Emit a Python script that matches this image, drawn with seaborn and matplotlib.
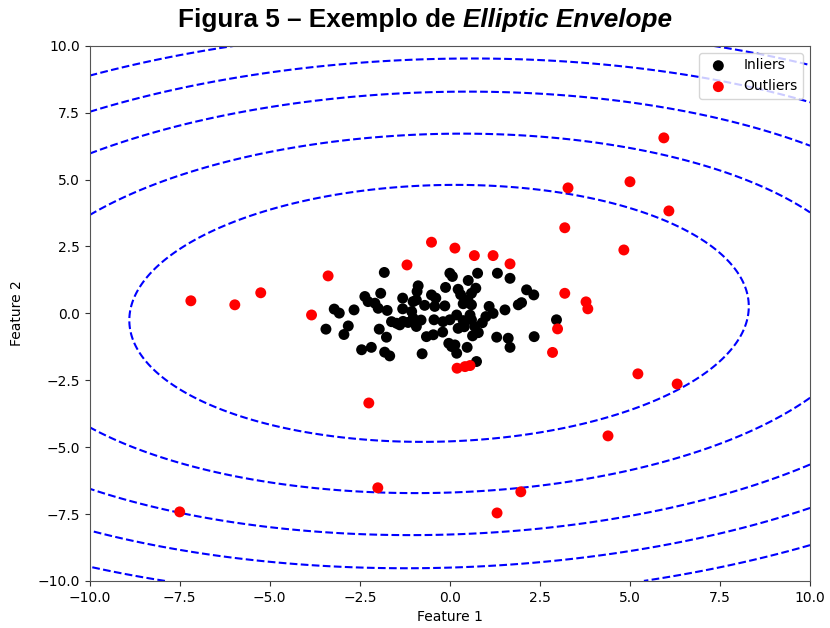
import numpy as np
import pandas as pd
import seaborn as sns
import matplotlib.pyplot as plt

# inliers (black points)
inlier_x = [-1.82, 0.00, 0.07, 0.77, 0.51, 1.32, 1.67, -0.88, -0.91, -0.12,
            0.23, 0.72, 0.60, 2.13, 2.33, -2.36, -1.92, -2.27, -2.08, -1.99,
            -3.21, -3.07, -2.66, -1.74, -1.31, -1.31, -1.02, -0.93, -0.51, -0.39,
            -0.42, -0.14, 0.37, 0.60, 1.09, 1.53, 1.90, 1.99, -1.06, -1.02,
            -1.62, -1.48, -1.39, -1.16, -0.93, -0.44, -0.19, 0.00, 0.19, 0.23,
            0.37, 0.56, 0.60, 1.00, -3.44, -2.82, -2.94, -1.96, -1.76, -0.65,
            -0.46, 0.69, 0.79, 0.63, 1.30, 1.62, 1.67, 2.34, 2.96, -0.03,
            0.05, 0.14, 0.19, 0.48, -2.45, -2.18, -1.81, -1.67, -0.77, 0.74,
            -1.30, -0.80, 0.40, 0.50, -0.70, 1.20, 0.30, -0.20, 0.90]
inlier_y = [1.53, 1.50, 1.38, 1.50, 1.23, 1.50, 1.31, 1.03, 0.82, 0.97,
            0.90, 0.94, 0.75, 0.88, 0.69, 0.63, 0.75, 0.44, 0.38, 0.19,
            0.16, 0.01, 0.13, 0.11, 0.57, 0.17, 0.44, 0.50, 0.69, 0.57,
            0.26, 0.28, 0.36, 0.32, 0.26, 0.13, 0.32, 0.40, 0.07, -0.18,
            -0.31, -0.37, -0.43, -0.34, -0.49, -0.24, -0.31, -0.24, -0.06, -0.56,
            -0.27, -0.06, -0.24, -0.12, -0.59, -0.47, -0.79, -0.59, -0.89, -0.87,
            -0.80, -0.49, -0.72, -0.84, -0.89, -0.93, -1.27, -0.87, -0.24, -1.12,
            -1.24, -1.18, -1.49, -1.27, -1.36, -1.27, -1.45, -1.59, -1.51, -1.80,
            -0.30, -0.25, -0.50, 0.50, 0.30, 0.00, 0.70, -0.70, -0.35]

# outliers (red points)
outlier_x = [-7.19, -5.97, -5.25, -3.84, -3.38, -1.19, -0.51, 0.14, 0.68, 1.20,
             1.67, 5.94, 5.00, 6.08, 3.28, 3.19, 4.83, 3.19, 3.78, 3.83,
             2.99, 2.85, 5.22, 6.31, 4.39, 0.20, 0.42, 0.56, -2.25, -2.00,
             1.97, 1.31, -7.50]
outlier_y = [0.47, 0.32, 0.77, -0.06, 1.40, 1.81, 2.66, 2.44, 2.16, 2.16,
             1.85, 6.56, 4.92, 3.83, 4.69, 3.20, 2.37, 0.75, 0.43, 0.17,
             -0.58, -1.46, -2.26, -2.64, -4.58, -2.05, -1.99, -1.95, -3.35, -6.52,
             -6.67, -7.46, -7.42]

# fitted elliptic envelope (centre, precision matrix, contour levels)
center = (-0.3, 0.0)
precision = [[0.312, -0.03], [-0.03, 1.0]]
levels = [23, 45, 68.5, 90.5, 113.5]

inliers = pd.DataFrame({"x": inlier_x, "y": inlier_y})
outliers = pd.DataFrame({"x": outlier_x, "y": outlier_y})

plt.rcParams["font.family"] = ["DejaVu Sans"]
fig = plt.figure(figsize=(8.3, 6.28), dpi=100)
ax = fig.add_axes([0.108, 0.075, 0.868, 0.852])

# mahalanobis-type distance surface
xx, yy = np.meshgrid(np.linspace(-10, 10, 500), np.linspace(-10, 10, 500))
dx = xx - center[0]
dy = yy - center[1]
P = np.array(precision)
Z = P[0, 0] * dx**2 + 2 * P[0, 1] * dx * dy + P[1, 1] * dy**2
ax.contour(xx, yy, Z, levels=levels, colors="blue", linestyles="dashed", linewidths=1.5)

sns.scatterplot(data=inliers, x="x", y="y", color="black", s=62,
                edgecolor="none", label="Inliers", ax=ax, zorder=3)
sns.scatterplot(data=outliers, x="x", y="y", color="red", s=62,
                edgecolor="none", label="Outliers", ax=ax, zorder=3)

ax.set_xlim(-10, 10)
ax.set_ylim(-10, 10)
ax.set_xticks(np.arange(-10, 10.1, 2.5))
ax.set_yticks(np.arange(-10, 10.1, 2.5))
ax.tick_params(labelsize=10, color="#333333")
ax.set_xlabel("Feature 1", fontsize=10)
ax.set_ylabel("Feature 2", fontsize=10, labelpad=10)
for sp in ax.spines.values():
    sp.set_color("#555555")
ax.legend(loc="upper right", fontsize=10)

# title: bold, with the method name in bold italic
t1 = fig.text(0.5, 0.957, "Figura 5 – Exemplo de ", fontsize=18.8, fontweight="bold",
              family="Liberation Sans", ha="left", va="baseline")
t2 = fig.text(0.5, 0.957, "Elliptic Envelope", fontsize=18.8, fontweight="bold",
              style="italic", family="Liberation Sans", ha="left", va="baseline")
fig.canvas.draw()
r = fig.canvas.get_renderer()
w1 = t1.get_window_extent(r).width / fig.bbox.width
w2 = t2.get_window_extent(r).width / fig.bbox.width
x0 = 0.512 - (w1 + w2) / 2
t1.set_x(x0)
t2.set_x(x0 + w1)

fig.savefig("out.png", dpi=100)
